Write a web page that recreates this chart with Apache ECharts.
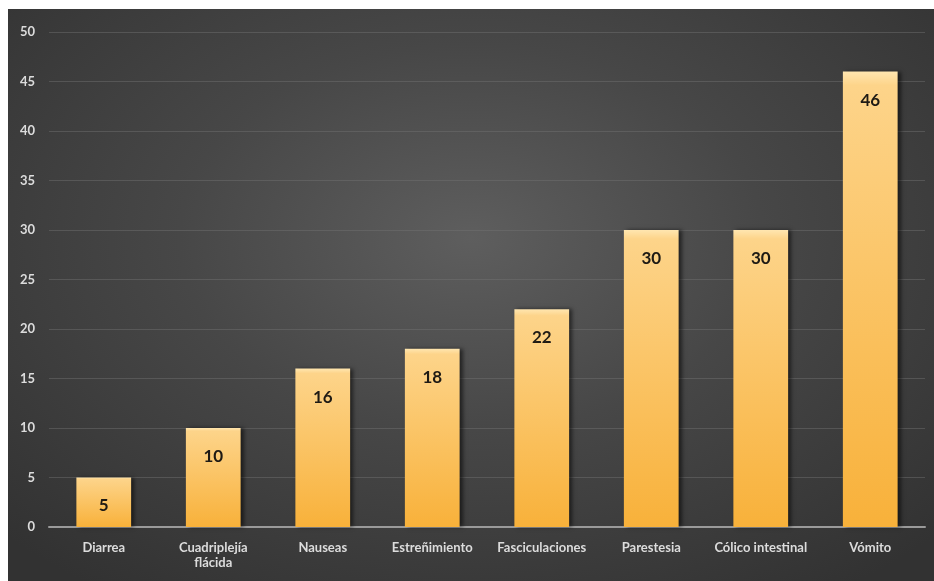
<!DOCTYPE html>
<html><head><meta charset="utf-8">
<script src="https://cdn.jsdelivr.net/npm/echarts@6/dist/echarts.min.js"></script>
<style>
html,body{margin:0;padding:0;background:#fff;width:934px;height:581px;overflow:hidden}
#c{position:absolute;left:8px;top:9px;width:926px;height:572px;
background:radial-gradient(ellipse 70% 75% at 50% 40%, #5e5e5e 0%, #474747 45%, #323232 100%);}
</style></head>
<body><div id="c"></div>
<script>
const categories = ['Diarrea', 'Cuadriplejía\nflácida', 'Nauseas', 'Estreñimiento', 'Fasciculaciones', 'Parestesia', 'Cólico intestinal', 'Vómito'];
const values = [5, 10, 16, 18, 22, 30, 30, 46];
const yTicks = [0, 5, 10, 15, 20, 25, 30, 35, 40, 45, 50];

const chart = echarts.init(document.getElementById('c'), null, {renderer:'canvas'});
chart.setOption({
  backgroundColor: 'transparent',
  animation: false,
  grid: {left: 41, right: 9, top: 23, bottom: 54},
  xAxis: {
    type: 'category', data: categories,
    axisLine: {lineStyle: {color: '#9a9a9a', width: 2}},
    axisTick: {show: false},
    axisLabel: {interval: 0, color: '#dcdcdc', fontFamily: 'Lato', fontWeight: 'bold', fontSize: 13, margin: 13, lineHeight: 15}
  },
  yAxis: {
    type: 'value', min: yTicks[0], max: yTicks[yTicks.length-1], interval: 5,
    axisLine: {show: false}, axisTick: {show: false},
    axisLabel: {color: '#dcdcdc', fontFamily: 'Lato', fontWeight: 'bold', fontSize: 13, margin: 14},
    splitLine: {lineStyle: {color: 'rgba(115,115,115,0.45)', width: 1}}
  },
  series: [{
    type: 'bar', data: values, barWidth: '50%',
    itemStyle: {
      color: new echarts.graphic.LinearGradient(0,0,0,1,[
        {offset:0, color:'#ffe6b0'},
        {offset:0.03, color:'#fdd48a'},
        {offset:1, color:'#f8b13a'}
      ]),
      shadowColor: 'rgba(0,0,0,0.55)', shadowBlur: 4, shadowOffsetX: 3, shadowOffsetY: 0
    },
    label: {show: true, position: 'insideTop', distance: 20, color: '#1e1a14',
      fontFamily: 'Lato', fontWeight: 'bold', fontSize: 17}
  }]
});
</script></body></html>
